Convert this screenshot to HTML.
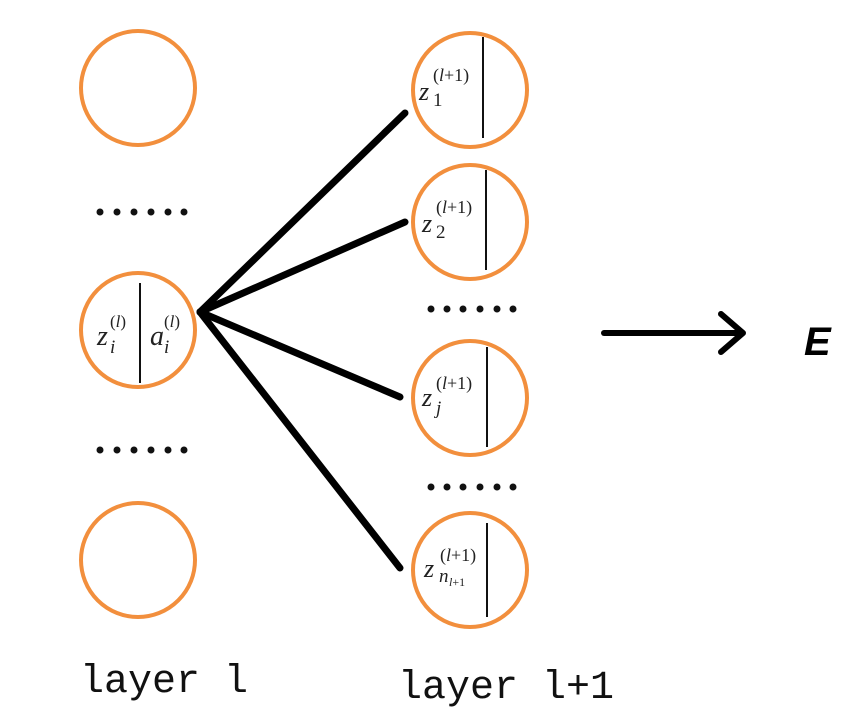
<!DOCTYPE html>
<html><head><meta charset="utf-8"><style>
html,body{margin:0;padding:0;background:#fff;}
svg{display:block;}
.m{font-family:"Liberation Serif",serif;font-style:italic;fill:#222;}
.s{font-family:"Liberation Serif",serif;fill:#222;}
.lab{font-family:"Liberation Mono",monospace;font-size:40px;fill:#111;}
</style></head><body>
<svg width="852" height="723" viewBox="0 0 852 723" xmlns="http://www.w3.org/2000/svg">
<g fill="none" stroke="#F28F3D" stroke-width="4">
<circle cx="138" cy="88" r="57"/>
<circle cx="138" cy="330" r="57"/>
<circle cx="138" cy="560" r="57"/>
<circle cx="470" cy="90" r="57"/>
<circle cx="470" cy="222" r="57"/>
<circle cx="470" cy="398" r="57"/>
<circle cx="470" cy="570" r="57"/>
</g>
<g stroke="#111" stroke-width="2">
<line x1="140" y1="283" x2="140" y2="383"/>
<line x1="483" y1="37" x2="483" y2="138"/>
<line x1="486" y1="170" x2="486" y2="270"/>
<line x1="487" y1="347" x2="487" y2="447"/>
<line x1="487" y1="523" x2="487" y2="617"/>
</g>
<g stroke="#000" stroke-width="7" stroke-linecap="round">
<line x1="200" y1="312" x2="405" y2="113"/>
<line x1="200" y1="312" x2="405" y2="222"/>
<line x1="200" y1="312" x2="400" y2="397"/>
<line x1="200" y1="312" x2="400" y2="568"/>
</g>
<g fill="none" stroke="#000" stroke-width="6" stroke-linecap="round" stroke-linejoin="round">
<line x1="604" y1="333" x2="742" y2="333"/>
<polyline points="721,314 743,333 721,352"/>
</g>
<text x="804" y="355" font-family="Liberation Sans,sans-serif" font-weight="bold" font-style="italic" font-size="40" fill="#000">E</text>
<g fill="#111">
<circle cx="100" cy="212" r="3.5"/><circle cx="117" cy="212" r="3.5"/><circle cx="134" cy="212" r="3.5"/><circle cx="151" cy="212" r="3.5"/><circle cx="168" cy="212" r="3.5"/><circle cx="184" cy="212" r="3.5"/>
<circle cx="100" cy="450" r="3.5"/><circle cx="117" cy="450" r="3.5"/><circle cx="134" cy="450" r="3.5"/><circle cx="151" cy="450" r="3.5"/><circle cx="168" cy="450" r="3.5"/><circle cx="184" cy="450" r="3.5"/>
<circle cx="431" cy="309" r="3.5"/><circle cx="447" cy="309" r="3.5"/><circle cx="463" cy="309" r="3.5"/><circle cx="480" cy="309" r="3.5"/><circle cx="497" cy="309" r="3.5"/><circle cx="513" cy="309" r="3.5"/>
<circle cx="431" cy="487" r="3.5"/><circle cx="447" cy="487" r="3.5"/><circle cx="463" cy="487" r="3.5"/><circle cx="480" cy="487" r="3.5"/><circle cx="497" cy="487" r="3.5"/><circle cx="513" cy="487" r="3.5"/>
</g>
<text class="m" x="97" y="345" font-size="28">z</text>
<text class="m" x="110" y="353" font-size="19">i</text>
<text class="s" x="110" y="327" font-size="17">(<tspan font-style="italic">l</tspan>)</text>
<text class="m" x="150" y="345" font-size="28">a</text>
<text class="m" x="164" y="353" font-size="19">i</text>
<text class="s" x="164" y="327" font-size="17">(<tspan font-style="italic">l</tspan>)</text>

<text class="m" x="419" y="100" font-size="26">z</text>
<text class="s" x="433" y="106" font-size="19">1</text>
<text class="s" x="433" y="81" font-size="18">(<tspan font-style="italic">l</tspan>+1)</text>

<text class="m" x="422" y="232" font-size="26">z</text>
<text class="s" x="436" y="238" font-size="19">2</text>
<text class="s" x="436" y="213" font-size="18">(<tspan font-style="italic">l</tspan>+1)</text>

<text class="m" x="422" y="406" font-size="26">z</text>
<text class="m" x="436" y="414" font-size="19">j</text>
<text class="s" x="436" y="389" font-size="18">(<tspan font-style="italic">l</tspan>+1)</text>

<text class="m" x="424" y="577" font-size="26">z</text>
<text class="m" x="439" y="582" font-size="19">n</text>
<text class="m" x="449" y="586" font-size="12">l<tspan font-style="normal">+1</tspan></text>
<text class="s" x="440" y="561" font-size="18">(<tspan font-style="italic">l</tspan>+1)</text>

<text class="lab" x="80" y="692">layer l</text>
<text class="lab" x="398" y="698">layer l+1</text>
</svg>
</body></html>
